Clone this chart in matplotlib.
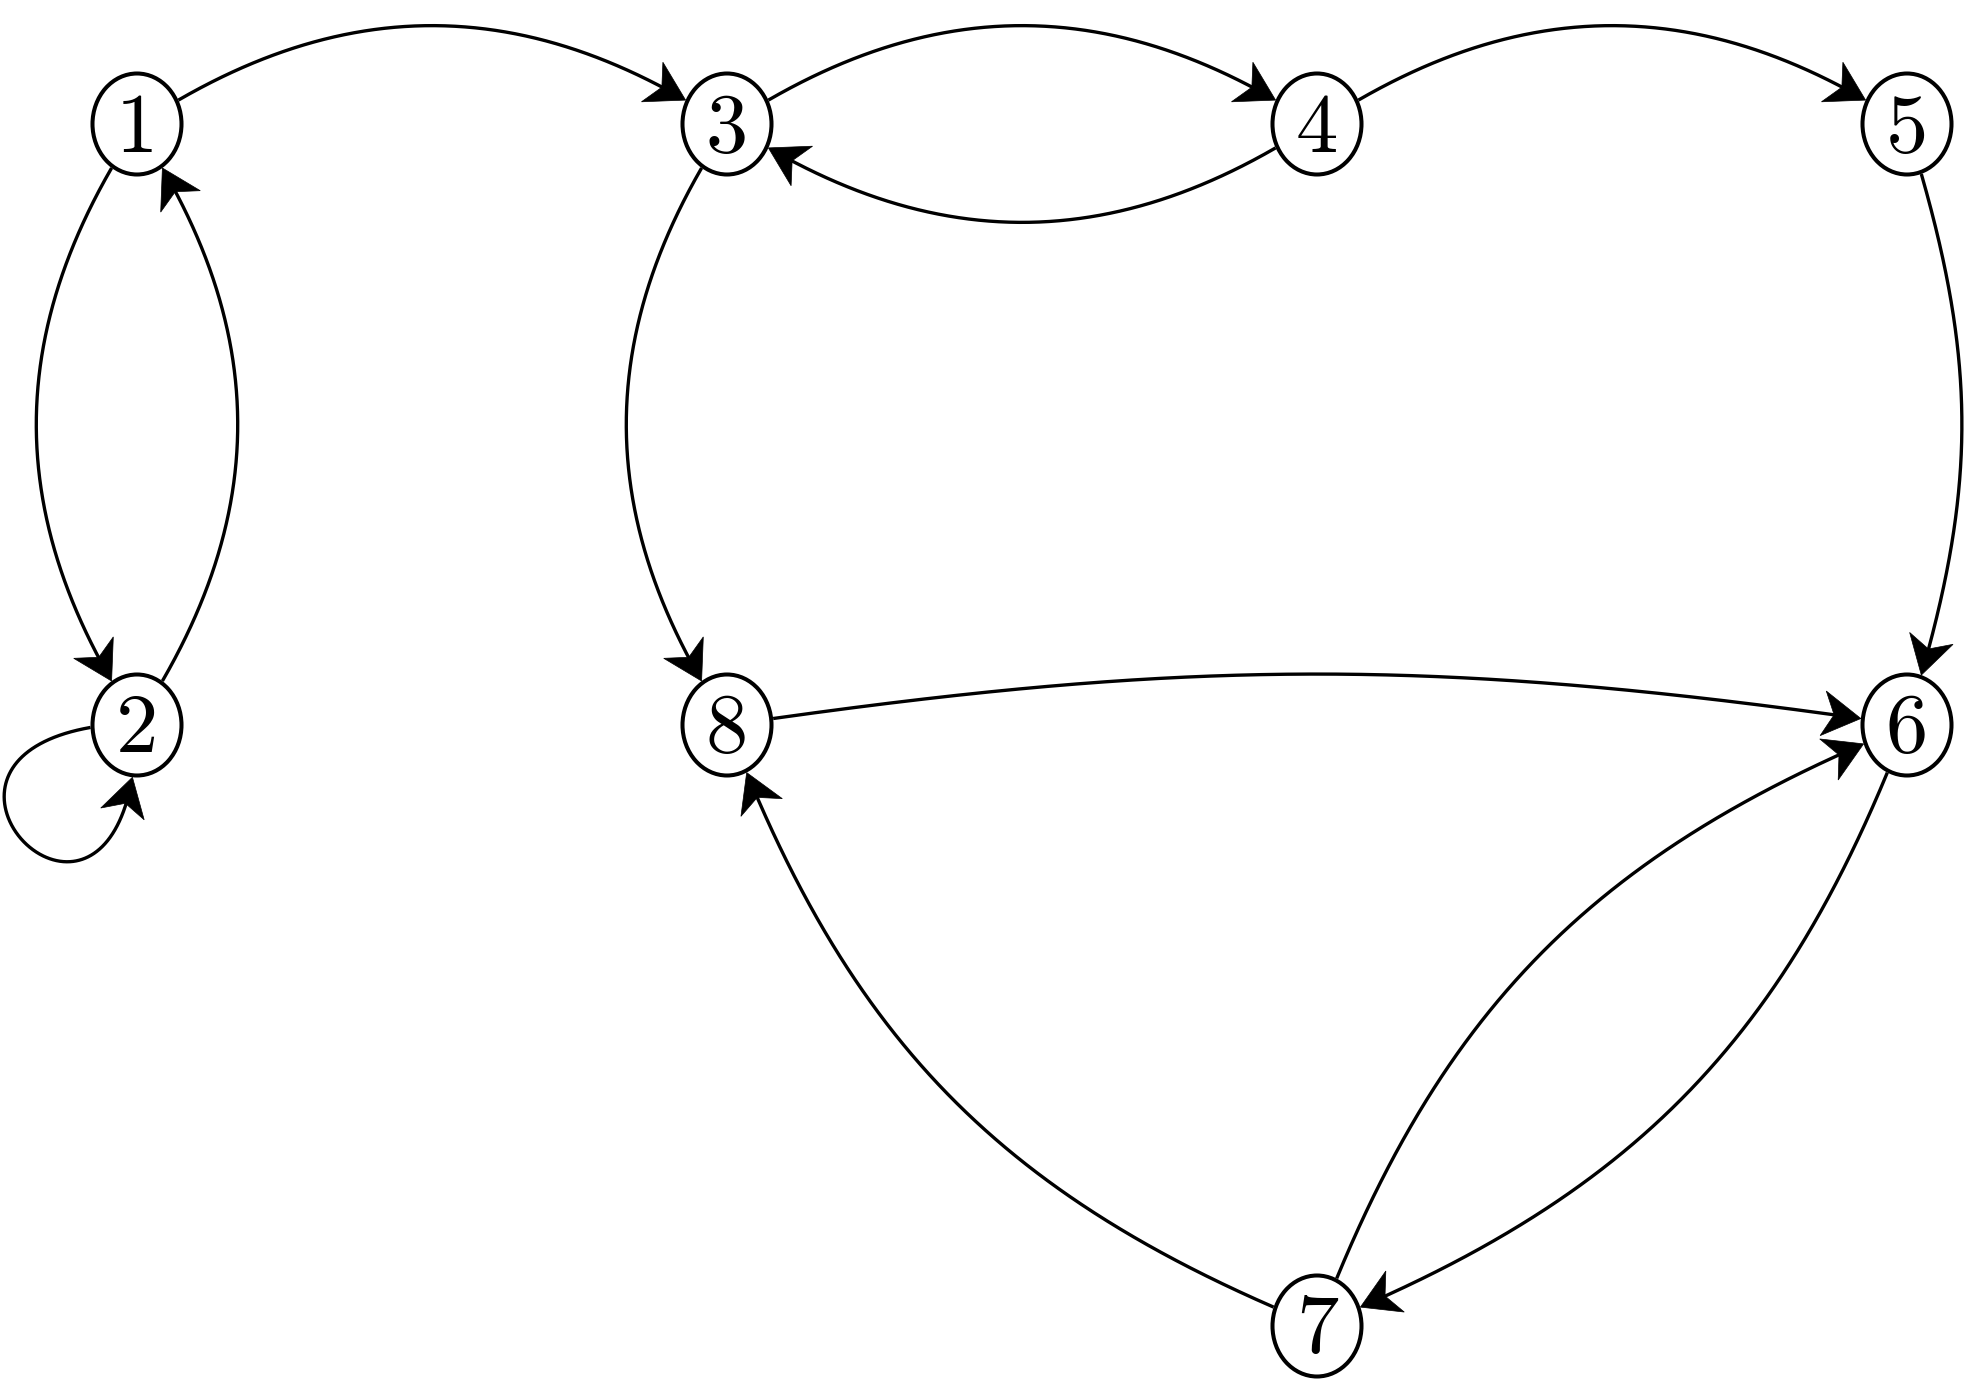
import numpy as np
import matplotlib
matplotlib.use('Agg')
import matplotlib.pyplot as plt
from matplotlib.patches import Ellipse, Polygon

# nodes on a grid (column, row)
node_labels = ['1', '2', '3', '4', '5', '6', '7', '8']
node_col = [0, 0, 1, 2, 3, 3, 2, 1]
node_row = [0, 1, 0, 0, 0, 1, 2, 1]

# edges: source, target, bend angle (positive = bend left, negative = bend right)
edge_src = ['1', '3', '4', '4', '5', '3', '1', '2', '8', '6', '7', '7']
edge_dst = ['3', '4', '3', '5', '6', '8', '2', '1', '6', '7', '6', '8']
edge_bend = [30, 30, 30, 30, 16, -30, -30, -30, 8, 22, 22, 22]

# self loop on node 2: start anchor, end anchor, out angle, in angle, looseness
loop_node = ['2']
loop_start = [183]
loop_end = [265]
loop_out = [190]
loop_in = [260]
loop_loose = [8]

W, H = 1981, 1380
X0, Y0, DX, DY = 137, 124, 590, 601
RX, RY = 46.5, 52.5          # outer border of the node ellipses
LW = 2.4                      # edge line width in points
NLW = 2.9                     # node outline width in points
AL, AW, AN = 38, 22.5, 27     # arrow length, half width, notch

pos = {}
for lab, c, r in zip(node_labels, node_col, node_row):
    pos[lab] = np.array([X0 + DX * c, H - (Y0 + DY * r)], dtype=float)


def unit(a):
    a = np.radians(a)
    return np.array([np.cos(a), np.sin(a)])


def border(p, a):
    u = unit(a)
    r = 1.0 / np.sqrt((u[0] / RX) ** 2 + (u[1] / RY) ** 2)
    return p + r * u


def curve(s, a_out, e, a_in, loose=1.0):
    d = loose * 0.3915 * np.linalg.norm(e - s)
    c1 = s + d * unit(a_out)
    c2 = e + d * unit(a_in)
    t = np.linspace(0, 1, 600)[:, None]
    return ((1 - t) ** 3 * s + 3 * (1 - t) ** 2 * t * c1
            + 3 * (1 - t) * t ** 2 * c2 + t ** 3 * e)


def draw_arrow(ax, pts):
    tip = pts[-1]
    dist = np.linalg.norm(pts - tip, axis=1)
    back = pts[np.argmax(dist < AL) - 1] if np.any(dist >= AL) else pts[0]
    u = (tip - back) / np.linalg.norm(tip - back)
    n = np.array([-u[1], u[0]])
    line = pts[dist > AN - 3]
    ax.plot(line[:, 0], line[:, 1], color='black', lw=LW,
            solid_capstyle='butt', zorder=2)
    head = [tip, tip - AL * u + AW * n, tip - AN * u, tip - AL * u - AW * n]
    ax.add_patch(Polygon(head, closed=True, facecolor='black',
                         edgecolor='black', lw=0.5, zorder=3))


fig = plt.figure(figsize=(W / 100, H / 100), dpi=100)
ax = fig.add_axes([0, 0, 1, 1])
ax.set_xlim(0, W)
ax.set_ylim(0, H)
ax.axis('off')

for a, b, th in zip(edge_src, edge_dst, edge_bend):
    pa, pb = pos[a], pos[b]
    phi = np.degrees(np.arctan2(pb[1] - pa[1], pb[0] - pa[0]))
    a_out, a_in = phi + th, phi + 180 - th
    pts = curve(border(pa, a_out), a_out, border(pb, a_in), a_in)
    draw_arrow(ax, pts)

for nd, sa, ea, ao, ai, lo in zip(loop_node, loop_start, loop_end,
                                  loop_out, loop_in, loop_loose):
    p = pos[nd]
    pts = curve(border(p, sa), ao, border(p, ea), ai, lo)
    draw_arrow(ax, pts)

for lab in node_labels:
    p = pos[lab]
    ax.add_patch(Ellipse(p, 2 * RX - 4, 2 * RY - 4, facecolor='white',
                         edgecolor='black', lw=NLW, zorder=4))
    ax.text(p[0], p[1] - 27.5, lab, fontfamily='cmr10', fontsize=61,
            ha='center', va='baseline', zorder=5)

fig.savefig('out.png', dpi=100)
